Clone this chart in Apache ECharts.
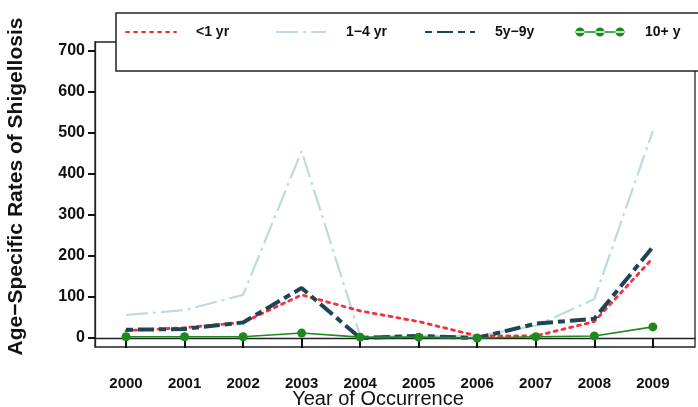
<!DOCTYPE html>
<html>
<head>
<meta charset="utf-8">
<script src="https://cdn.jsdelivr.net/npm/echarts@6/dist/echarts.min.js"></script>
<style>html,body{margin:0;padding:0;background:#fff}#c{width:698px;height:407px}</style>
</head>
<body>
<div id="c"></div>
<script>
const years = [2000, 2001, 2002, 2003, 2004, 2005, 2006, 2007, 2008, 2009];
const yTicks = [0, 100, 200, 300, 400, 500, 600, 700];
const seriesNames = ['<1 yr', '1\u22124 yr', '5y\u22129y', '10+ y'];
const lessThan1 = [18, 25, 38, 105, 66, 40, 5, 5, 40, 195];
const age1to4 = [56, 68, 105, 456, 5, 5, 5, 30, 95, 505];
const age5to9 = [20, 22, 38, 122, 0, 5, 0, 35, 47, 222];
const age10plus = [3, 3, 3, 12, 2, 2, 0, 3, 5, 27];

const pairs = arr => years.map((y, i) => [y, arr[i]]);
const font = 'Liberation Sans, Arial, sans-serif';
const hideSym = {color: 'rgba(0,0,0,0)', borderWidth: 0, borderColor: 'rgba(0,0,0,0)'};
const greenIcon = 'path://M25,0 L25.01,0 L25,0.01 Z M25,14 L25.01,14 L25,13.99 Z M0,6.3 L50,6.3 L50,7.7 L0,7.7 Z M0.5,7 a4.5,4.5 0 1,0 9,0 a4.5,4.5 0 1,0 -9,0 Z M20.5,7 a4.5,4.5 0 1,0 9,0 a4.5,4.5 0 1,0 -9,0 Z M40.5,7 a4.5,4.5 0 1,0 9,0 a4.5,4.5 0 1,0 -9,0 Z';
const legendLefts = [116, 275, 424, 575];

const legendTextStyle = {fontFamily: font, fontSize: 14, fontWeight: 'bold', color: '#111', padding: [0, 0, 0, 15]};
const legends = seriesNames.map((name, i) => {
  const item = i === 3 ? {name: name, icon: greenIcon, itemStyle: {color: '#1e8a1e', borderWidth: 0}}
                       : {name: name, itemStyle: hideSym};
  const base = {
    top: 13, left: legendLefts[i], z: i === 0 ? 4 : 6,
    itemWidth: 50, itemHeight: 14,
    selectedMode: false,
    textStyle: legendTextStyle,
    data: [item]
  };
  if (i === 0) {
    Object.assign(base, {padding: [12, 640, 32, 9], backgroundColor: '#fff', borderColor: '#222', borderWidth: 1.5, borderRadius: 0});
  } else {
    base.padding = [12, 0, 0, 0];
  }
  return base;
});

const chart = echarts.init(document.getElementById('c'), null, {renderer: 'canvas'});
chart.setOption({
  animation: false,
  backgroundColor: '#fff',
  grid: {left: 95, right: 3, top: 42, bottom: 60, show: true, outerBoundsMode: 'none', containLabel: false,
         borderColor: '#222', borderWidth: 1.3, backgroundColor: 'transparent'},
  legend: legends,
  xAxis: {
    type: 'value', min: 1999.47, max: 2009.72,
    name: 'Year of Occurrence', nameLocation: 'middle', nameGap: 42, nameMoveOverlap: false,
    nameTextStyle: {fontFamily: font, fontSize: 20, color: '#111', padding: [0, 34, 0, 0]},
    axisLine: {show: true, lineStyle: {color: '#222', width: 1.3}},
    axisTick: {show: true, customValues: years, length: 10, lineStyle: {color: '#111', width: 2}},
    axisLabel: {customValues: years, margin: 29, fontFamily: font, fontSize: 15, fontWeight: 'bold', color: '#111', formatter: v => String(Math.round(v))},
    splitLine: {show: false}
  },
  yAxis: {
    type: 'value', min: -22, max: 722,
    name: 'Age\u2212Specific Rates of Shigellosis', nameLocation: 'middle', nameGap: 68, nameRotate: 90, nameMoveOverlap: false,
    nameTextStyle: {fontFamily: font, fontSize: 21, fontWeight: 'bold', color: '#111', padding: [0, 0, 0, 16]},
    axisLine: {show: true, lineStyle: {color: '#222', width: 1.3}},
    axisTick: {show: true, customValues: yTicks, length: 7, lineStyle: {color: '#111', width: 2}},
    axisLabel: {customValues: yTicks, margin: 10, fontFamily: font, fontSize: 16, fontWeight: 'bold', color: '#111'},
    splitLine: {show: false}
  },
  series: [
    {name: seriesNames[1], type: 'line', data: pairs(age1to4), symbol: 'none',
     lineStyle: {color: '#bfdadd', width: 2.2, type: [22, 5, 3, 5]}, itemStyle: {color: '#bfdadd'}},
    {name: seriesNames[0], type: 'line', data: pairs(lessThan1), symbol: 'none',
     lineStyle: {color: '#f5303a', width: 2.8, type: [3, 5], cap: 'round'}, itemStyle: {color: '#f5303a'}},
    {name: seriesNames[2], type: 'line', data: pairs(age5to9), symbol: 'none',
     lineStyle: {color: '#1f4555', width: 4, type: [7, 5, 16, 5]}, itemStyle: {color: '#1f4555'}},
    {name: seriesNames[3], type: 'line', data: pairs(age10plus), symbol: 'circle', symbolSize: 9,
     lineStyle: {color: '#1e8a1e', width: 1.6}, itemStyle: {color: '#1e8a1e'}}
  ]
});
</script>
</body>
</html>
